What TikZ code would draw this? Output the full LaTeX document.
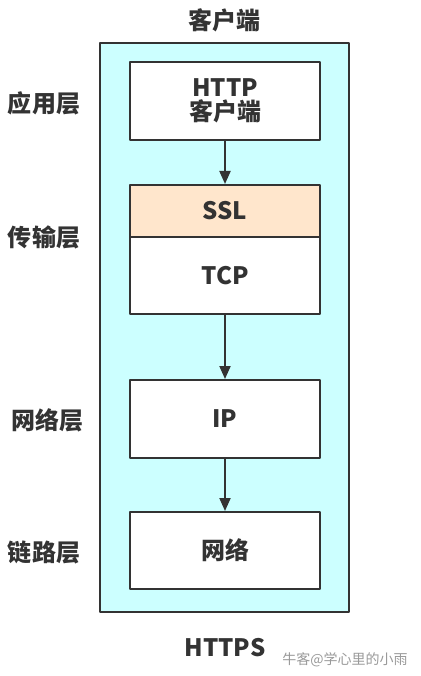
\documentclass[tikz,border=0pt]{standalone}
\usepackage{fontspec}
\setmainfont{Noto Sans CJK SC}
\usetikzlibrary{arrows.meta}
\definecolor{txtgray}{HTML}{333333}
\definecolor{outerfill}{HTML}{CCFFFF}
\definecolor{sslfill}{HTML}{FFE6CC}
\tikzset{
	layerbox/.style={draw=txtgray,line width=2pt,fill=white,minimum width=190pt,font=\bfseries\fontsize{24}{28}\selectfont,text=txtgray,align=center},
	sidelabel/.style={font=\bfseries\fontsize{24}{28}\selectfont,text=txtgray},
	flow/.style={-{Triangle[length=13pt,width=11pt]},line width=2pt,color=txtgray}
}

\begin{document}
\begin{tikzpicture}[line cap=round,line join=round,x=1pt,y=-1pt]
		\useasboundingbox (0,0) rectangle (420,676);
		\node[draw=txtgray,line width=2pt,fill=outerfill,minimum width=249pt,minimum height=569pt] (host) at (224.5,327.5) {};
		\node[layerbox,minimum height=78pt,inner sep=0pt] (http) at (225,101) {HTTP\\[-4pt]客户端};
		\node[layerbox,fill=sslfill,minimum height=52pt] (ssl) at (225,211) {SSL};
		\node[layerbox,minimum height=77pt] (tcp) at (225,275.5) {TCP};
		\node[layerbox,minimum height=78pt] (ip) at (225,419) {IP};
		\node[layerbox,minimum height=77pt] (net) at (225,550.5) {网络};
		\draw[flow] (http) -- (ssl);
		\draw[flow] (tcp) -- (ip);
		\draw[flow] (ip) -- (net);
		\node[sidelabel] (client) at (224.5,20) {客户端};
		\node[sidelabel] (app) at (44,103) {应用层};
		\node[sidelabel] (trans) at (44,237) {传输层};
		\node[sidelabel] (netlayer) at (47,420) {网络层};
		\node[sidelabel] (link) at (44,552) {链路层};
		\node[sidelabel] (https) at (225,648) {HTTPS};
		\node[font=\fontsize{14}{16}\selectfont,text=gray!80] (mark) at (345,660) {牛客@学心里的小雨};
	\end{tikzpicture}
\end{document}
